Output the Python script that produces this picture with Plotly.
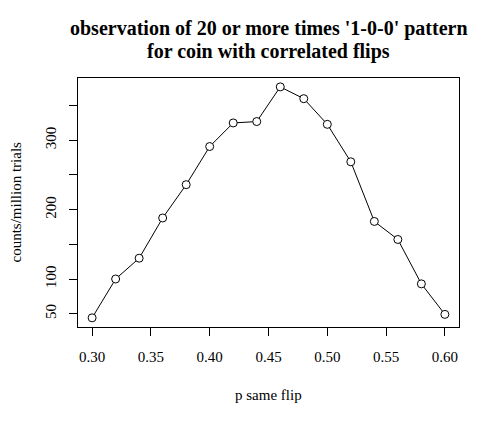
import plotly.graph_objects as go

# p same flip vs counts per million trials
p_same = [0.30, 0.32, 0.34, 0.36, 0.38, 0.40, 0.42, 0.44,
          0.46, 0.48, 0.50, 0.52, 0.54, 0.56, 0.58, 0.60]
counts = [44, 100, 130, 188, 236, 291, 325, 327,
          377, 360, 323, 269, 183, 157, 93, 49]

x_ticks = [0.30, 0.35, 0.40, 0.45, 0.50, 0.55, 0.60]
y_ticks = [50, 100, 150, 200, 250, 300, 350]
y_labels = ["50", "100", "", "200", "", "300", ""]

title_lines = ["observation of 20 or more times '1-0-0' pattern",
               "for coin with correlated flips"]

serif = "Liberation Serif, Times New Roman, serif"

fig = go.Figure()
fig.add_trace(go.Scatter(
    x=p_same, y=counts, mode="lines+markers",
    line=dict(color="black", width=1),
    marker=dict(symbol="circle", size=8, color="white",
                line=dict(color="black", width=1)),
    showlegend=False,
))

fig.update_layout(
    width=499, height=425,
    margin=dict(l=78, r=40, t=78, b=98),
    paper_bgcolor="white", plot_bgcolor="white",
    font=dict(family=serif, size=15, color="black"),
)

# title, one annotation per line
for i, line in enumerate(title_lines):
    fig.add_annotation(
        text="<b>" + line + "</b>", xref="paper", yref="paper",
        x=0.5, y=1, xanchor="center", yanchor="middle",
        yshift=50 - 23 * i, showarrow=False,
        font=dict(family=serif, size=20, color="black"),
    )

# axis titles
fig.add_annotation(text="p same flip", xref="paper", yref="paper",
                   x=0.5, y=0, xanchor="center", yanchor="middle", yshift=-68,
                   showarrow=False, font=dict(family=serif, size=15))
fig.add_annotation(text="counts/million trials", xref="paper", yref="paper",
                   x=0, y=0.5, xanchor="center", yanchor="middle", xshift=-63,
                   textangle=-90, showarrow=False, font=dict(family=serif, size=15))

fig.update_xaxes(
    range=[0.288, 0.612], tickvals=x_ticks, ticktext=[f"{v:.2f}" for v in x_ticks],
    showgrid=False, zeroline=False, showline=True, linecolor="black", linewidth=1,
    mirror=True, ticks="outside", ticklen=8, tickcolor="black",
    ticklabelstandoff=8,
)
fig.update_yaxes(
    range=[30.8, 389.8], tickvals=y_ticks, ticktext=y_labels, tickangle=-90,
    showgrid=False, zeroline=False, showline=True, linecolor="black", linewidth=1,
    mirror=True, ticks="outside", ticklen=8, tickcolor="black",
    ticklabelstandoff=7,
)

# drop the default 8px body margin so the figure fills the window
fig.write_html("out.html", config={"displayModeBar": False},
               post_script="document.body.style.margin='0';")
